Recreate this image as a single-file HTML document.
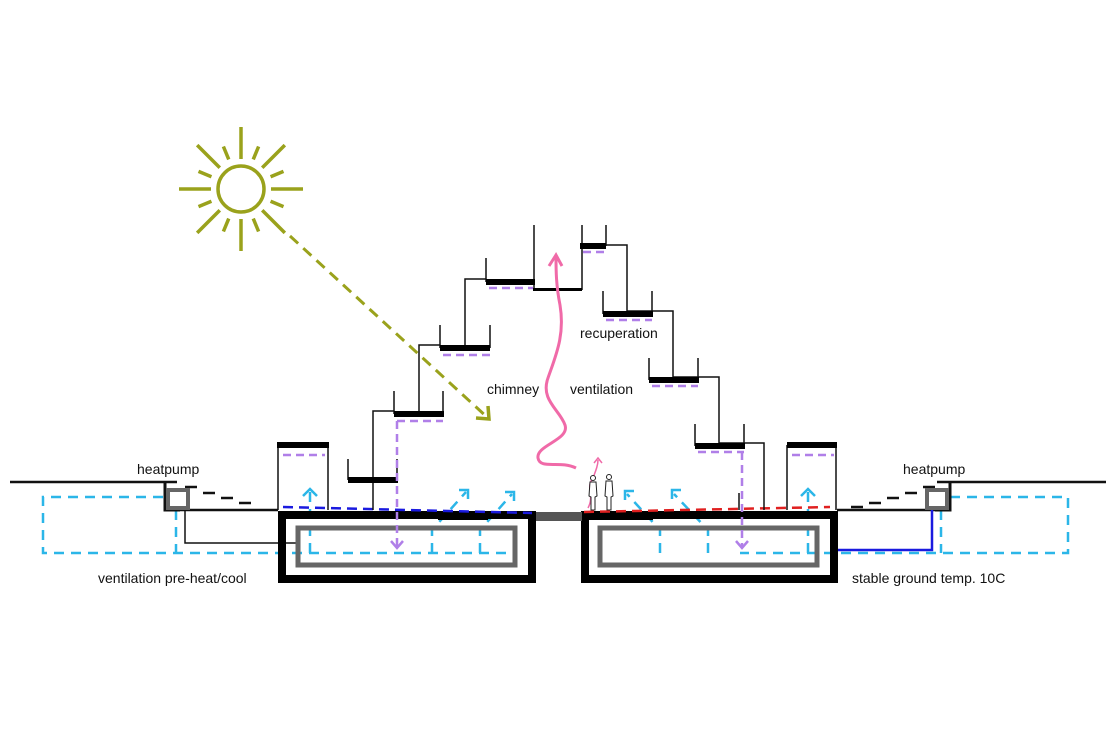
<!DOCTYPE html>
<html><head><meta charset="utf-8"><style>
html,body{margin:0;padding:0;background:#fff}
svg text{font-family:"Liberation Sans",Arial,sans-serif;font-size:14px;fill:#111}
</style></head><body>
<svg width="1116" height="744" viewBox="0 0 1116 744" xmlns="http://www.w3.org/2000/svg">
<!-- sun -->
<g transform="translate(241,189)" stroke="#9aa21c" stroke-width="3.5" fill="none">
<circle r="23"/>
<line x1="0" y1="-30" x2="0" y2="-62"/>
<line x1="0" y1="-30" x2="0" y2="-62" transform="rotate(45)"/>
<line x1="0" y1="-30" x2="0" y2="-62" transform="rotate(90)"/>
<line x1="0" y1="-30" x2="0" y2="-62" transform="rotate(135)"/>
<line x1="0" y1="-30" x2="0" y2="-62" transform="rotate(180)"/>
<line x1="0" y1="-30" x2="0" y2="-62" transform="rotate(225)"/>
<line x1="0" y1="-30" x2="0" y2="-62" transform="rotate(270)"/>
<line x1="0" y1="-30" x2="0" y2="-62" transform="rotate(315)"/>
<line x1="0" y1="-32" x2="0" y2="-46" transform="rotate(22.5)"/>
<line x1="0" y1="-32" x2="0" y2="-46" transform="rotate(67.5)"/>
<line x1="0" y1="-32" x2="0" y2="-46" transform="rotate(112.5)"/>
<line x1="0" y1="-32" x2="0" y2="-46" transform="rotate(157.5)"/>
<line x1="0" y1="-32" x2="0" y2="-46" transform="rotate(202.5)"/>
<line x1="0" y1="-32" x2="0" y2="-46" transform="rotate(247.5)"/>
<line x1="0" y1="-32" x2="0" y2="-46" transform="rotate(292.5)"/>
<line x1="0" y1="-32" x2="0" y2="-46" transform="rotate(337.5)"/>
</g>
<line x1="290" y1="236" x2="488" y2="418" stroke="#9aa21c" stroke-width="3" stroke-dasharray="11,7"/>
<path d="M476,418 L489,419 L488,406" fill="none" stroke="#9aa21c" stroke-width="3.5"/>

<!-- cyan loops -->
<g stroke="#2bb6e8" stroke-width="2.5" fill="none" stroke-dasharray="10,7">
<path d="M163,497 H43 V553 H515"/>
<path d="M176,510 V553"/>
<path d="M950,497 H1068 V553 H740"/>
<path d="M941,510 V553"/>
<path d="M310,553 V490"/><path d="M432,553 V530 L466,492"/><path d="M480,553 V530 L512,494"/>
<path d="M660,553 V530 L627,494"/><path d="M708,553 V530 L674,494"/><path d="M808,553 V490"/>
</g>
<g stroke="#2bb6e8" stroke-width="2.5" fill="none">
<path d="M303,496 L310,489 L317,496"/><path d="M801,496 L808,489 L815,496"/>
<path d="M459,490 L468,490 L468,499"/><path d="M505,492 L514,492 L514,501"/>
<path d="M634,491 L625,491 L625,500"/><path d="M681,490 L672,490 L672,499"/>
</g>

<!-- ground lines -->
<g stroke="#111" stroke-width="2.5" fill="none">
<path d="M10,482 H177"/><path d="M937,482 H1106"/>
<path d="M177,510 H278"/><path d="M837,510 H945"/>
<path d="M185,510 V543 H298" stroke-width="1.5"/>
</g>
<g stroke="#111" stroke-width="2.5">
<line x1="185" y1="487" x2="197" y2="487"/><line x1="203" y1="493" x2="215" y2="493"/><line x1="221" y1="498" x2="233" y2="498"/><line x1="239" y1="503" x2="251" y2="503"/>
<line x1="923" y1="487" x2="935" y2="487"/><line x1="905" y1="493" x2="917" y2="493"/><line x1="887" y1="498" x2="899" y2="498"/><line x1="869" y1="503" x2="881" y2="503"/><line x1="851" y1="507" x2="863" y2="507"/>
</g>
<path d="M165,482 V510 H180" stroke="#111" stroke-width="3" fill="none"/>
<rect x="168" y="490" width="20" height="18" fill="#fff" stroke="#666" stroke-width="4"/>
<path d="M950,482 V510 H935" stroke="#111" stroke-width="3" fill="none"/>
<rect x="927" y="490" width="20" height="18" fill="#fff" stroke="#666" stroke-width="4"/>
<path d="M832,550 H932 V510" stroke="#1a1adf" stroke-width="2.5" fill="none"/>

<!-- foundations -->
<rect x="282" y="515" width="250" height="64" fill="none" stroke="#000" stroke-width="8"/>
<rect x="585" y="515" width="249" height="64" fill="none" stroke="#000" stroke-width="8"/>
<rect x="536" y="512" width="46" height="9" fill="#555"/>
<rect x="298" y="528" width="217" height="37" fill="none" stroke="#666" stroke-width="5"/>
<rect x="600" y="528" width="217" height="37" fill="none" stroke="#666" stroke-width="5"/>
<rect x="390" y="511" width="100" height="6" fill="#000"/>
<rect x="438" y="515" width="50" height="5" fill="#000"/>
<rect x="630" y="511" width="100" height="6" fill="#000"/>
<rect x="583" y="515" width="70" height="5" fill="#000"/>
<line x1="283" y1="507" x2="532" y2="513" stroke="#1a1adf" stroke-width="2.5" stroke-dasharray="10,6"/>
<line x1="584" y1="512" x2="830" y2="507" stroke="#e02020" stroke-width="2.5" stroke-dasharray="10,6"/>

<!-- stair structure -->
<g stroke="#111" stroke-width="1.5" fill="none">
<path d="M278,510 V445 M328,510 V445"/>
<path d="M787,510 V445 M836,510 V445"/>
<path d="M348,480 V459 M397,480 V459 M373,510 V411 H394"/>
<path d="M394,414 V391 M443,414 V391 M419,414 V345 H440"/>
<path d="M440,348 V325 M490,348 V325 M465,348 V279 H486"/>
<path d="M486,282 V258 M534,290 V225 M582,290 V225"/>
<path d="M606,246 V225 M582,245 H627 V311"/>
<path d="M603,314 V291 M652,314 V291 M627,311 H673 V378"/>
<path d="M649,380 V358 M698,380 V358 M673,377 H719 V443"/>
<path d="M695,446 V424 M744,446 V424 M719,443 H764 V510"/>
<path d="M739,510 V493"/>
</g>
<g fill="#000">
<rect x="277" y="442" width="52" height="6"/>
<rect x="787" y="442" width="50" height="6"/>
<rect x="348" y="477" width="50" height="6"/>
<rect x="394" y="411" width="50" height="6"/>
<rect x="440" y="345" width="50" height="6"/>
<rect x="486" y="279" width="49" height="6"/>
<rect x="533" y="288" width="49" height="3"/>
<rect x="580" y="243" width="26" height="6"/>
<rect x="603" y="311" width="50" height="6"/>
<rect x="649" y="377" width="50" height="6"/>
<rect x="695" y="443" width="50" height="6"/>
</g>
<g stroke="#b07fe8" stroke-width="2.5" fill="none" stroke-dasharray="8,5">
<line x1="283" y1="455" x2="325" y2="455"/><line x1="792" y1="455" x2="834" y2="455"/>
<line x1="397" y1="421" x2="443" y2="421"/><line x1="443" y1="355" x2="490" y2="355"/>
<line x1="489" y1="288" x2="533" y2="288"/><line x1="583" y1="252" x2="606" y2="252"/>
<line x1="606" y1="320" x2="652" y2="320"/><line x1="652" y1="386" x2="698" y2="386"/>
<line x1="698" y1="452" x2="744" y2="452"/>
<path d="M397,421 V548"/><path d="M742,452 V548"/>
</g>
<g stroke="#b07fe8" stroke-width="2.5" fill="none">
<path d="M391,541 L397,548 L403,541"/><path d="M736,541 L742,548 L748,541"/>
</g>

<!-- chimney -->
<path d="M576,468 C560,460 540,470 538,458 C536,445 570,440 565,425 C560,410 540,400 548,378 C556,355 565,335 560,305 C556,285 556,270 556,256" fill="none" stroke="#f06aa8" stroke-width="3"/>
<path d="M549,266 L556,255 L562,266" fill="none" stroke="#f06aa8" stroke-width="3"/>
<path d="M588,508 C595,495 585,488 593,478 C596,470 598,465 598,460" fill="none" stroke="#f06aa8" stroke-width="1.5"/>
<path d="M594,463 L598,458 L602,463" fill="none" stroke="#f06aa8" stroke-width="1.5"/>
<!-- people -->
<g stroke="#222" stroke-width="1" fill="#fff">
<circle cx="593" cy="478" r="2.5"/><path d="M590,482 H596 L597,496 L595,497 V510 H591 V497 L589,496 Z"/>
<circle cx="609" cy="477" r="2.5"/><path d="M606,481 H612 L613,496 L611,497 V510 H607 V497 L605,496 Z"/>
</g>

<!-- labels -->
<text x="137" y="474">heatpump</text>
<text x="903" y="474">heatpump</text>
<text x="487" y="394">chimney</text>
<text x="570" y="394">ventilation</text>
<text x="580" y="338">recuperation</text>
<text x="98" y="583">ventilation pre-heat/cool</text>
<text x="852" y="583">stable ground temp. 10C</text>
</svg>
</body></html>
